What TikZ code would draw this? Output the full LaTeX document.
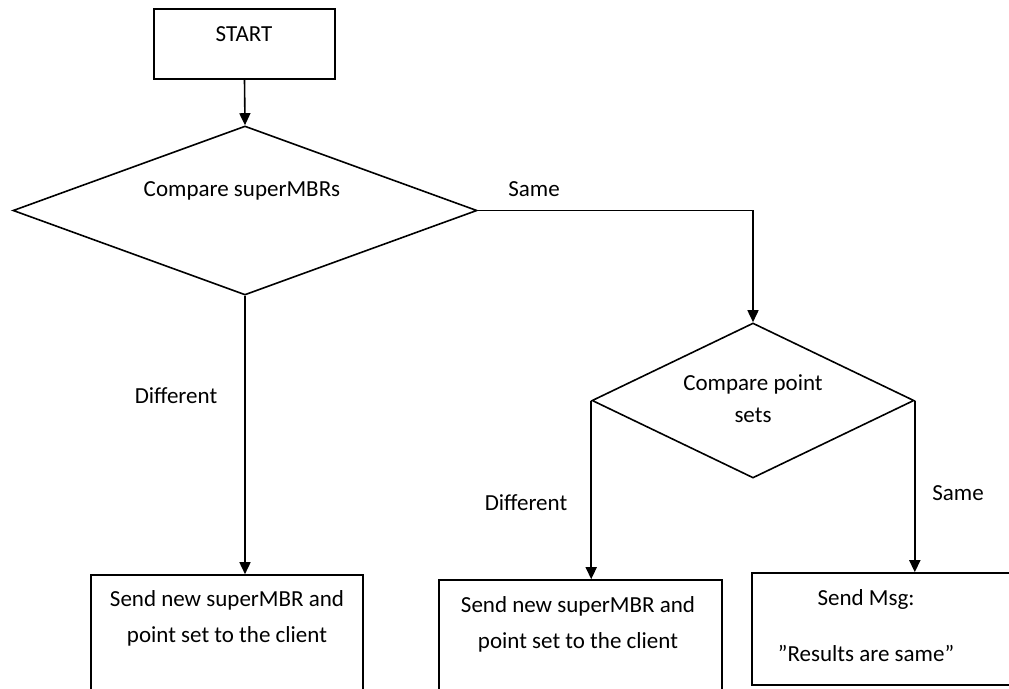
\documentclass[tikz,border=0pt]{standalone}
\usepackage{fontspec}
\setmainfont{Carlito}
\usetikzlibrary{shapes.geometric,arrows.meta}
\begin{document}
\begin{tikzpicture}[x=1pt,y=-1pt,
  line width=1.6pt,
  every node/.style={font=\fontsize{23}{28}\selectfont, inner sep=0pt},
  procbox/.style={draw, rectangle, minimum width=#1},
  decision/.style={draw, diamond, inner sep=0pt},
  txt/.style={anchor=base},
  flow/.style={-{Triangle[length=12pt,width=11pt]}}]
  \useasboundingbox (0,0) rectangle (1009,688);
  \clip (0,0) rectangle (1009,688);

  % start box
  \node[procbox=181pt, minimum height=70pt] (start) at (244.5,44) {};
  \node[txt] (startT) at (244,41) {START};

  % first decision
  \node[decision, minimum width=464pt, minimum height=169pt] (d1) at (245,210.5) {};
  \node[txt] (d1T) at (242,196) {Compare superMBRs};

  % second decision
  \node[decision, minimum width=322pt, minimum height=155pt] (d2) at (753,400.5) {};
  \node[txt] (d2Ta) at (753,390) {Compare point};
  \node[txt] (d2Tb) at (753,422) {sets};

  % result boxes (lower parts run past the page edge)
  \node[procbox=272pt, minimum height=145pt] (b1) at (227,647.5) {};
  \node[txt] (b1Ta) at (227,606) {Send new superMBR and};
  \node[txt] (b1Tb) at (227,642) {point set to the client};

  \node[procbox=283pt, minimum height=140pt] (b2) at (580.5,650) {};
  \node[txt] (b2Ta) at (578,612) {Send new superMBR and};
  \node[txt] (b2Tb) at (578,648) {point set to the client};

  \node[procbox=268pt, minimum height=112pt] (b3) at (886,629) {};
  \node[txt] (b3Ta) at (866,605) {Send Msg:};
  \node[txt] (b3Tb) at (866,661) {”Results are same”};

  % connectors
  \draw[flow] (start.south) -- (d1.north);
  \draw[flow] (d1.east) -| (d2.north);
  \draw[flow] (d1.south) -- (d1.south |- b1.north);
  \draw[flow] (d2.west) -- (d2.west |- b2.north);
  \draw[flow] (d2.east) -- (d2.east |- b3.north);

  % branch labels
  \node[txt] (lSame1) at (534,196) {Same};
  \node[txt] (lDiff1) at (176,403) {Different};
  \node[txt] (lDiff2) at (526,510) {Different};
  \node[txt] (lSame2) at (958,500) {Same};
\end{tikzpicture}
\end{document}
